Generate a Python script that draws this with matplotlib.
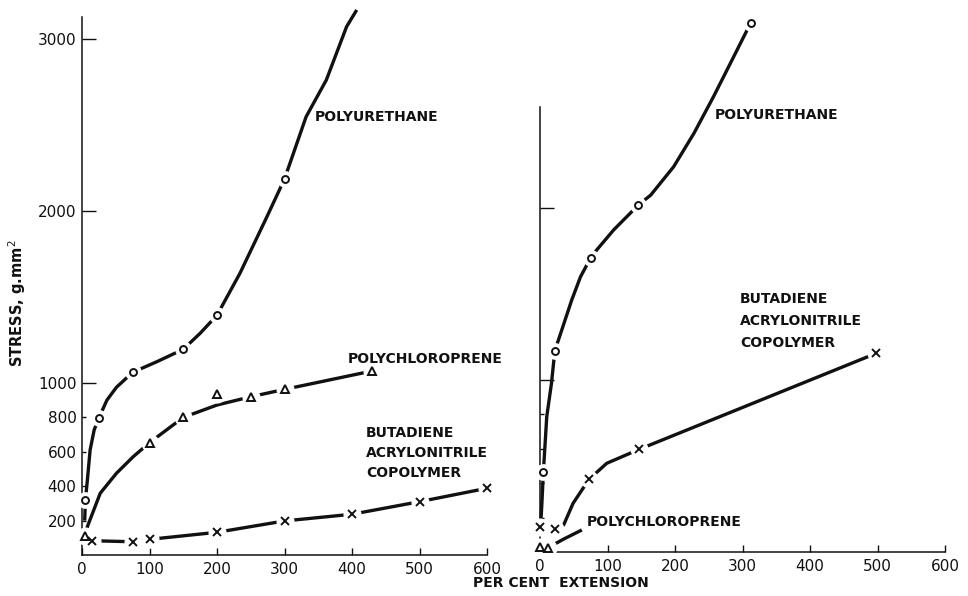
import matplotlib.pyplot as plt

# ---- data (per cent extension, stress g/mm^2) ----
# left panel: measured points
pu_left_x = [5, 25, 75, 150, 200, 300]
pu_left_y = [320, 797, 1062, 1196, 1394, 2186]
cr_left_x = [5, 100, 150, 200, 250, 300, 430]
cr_left_y = [110, 653, 800, 937, 920, 963, 1070]
nbr_left_x = [15, 75, 100, 200, 300, 400, 500, 600]
nbr_left_y = [83, 77, 91, 132, 198, 237, 310, 388]

# left panel: traced curves
pu_left_cx = [4, 5, 8, 12, 18, 25, 37, 51, 75, 111, 150, 175, 200, 234, 274, 300, 332, 362, 392, 407]
pu_left_cy = [200, 320, 436, 610, 727, 797, 901, 975, 1062, 1124, 1196, 1289, 1394, 1638, 1967, 2186, 2548, 2762, 3072, 3169]
cr_left_cx = [5, 8, 27, 51, 76, 100, 150, 200, 250, 300, 430]
cr_left_cy = [110, 165, 359, 475, 572, 653, 800, 872, 920, 963, 1070]
nbr_left_cx = [5, 15, 75, 100, 200, 300, 400, 500, 600]
nbr_left_cy = [100, 83, 77, 91, 132, 198, 237, 310, 388]

# right panel: measured points
pu_right_x = [5, 22, 75, 145, 312]
pu_right_y = [465, 1170, 1710, 2015, 3075]
nbr_right_x = [0, 22, 73, 147, 498]
nbr_right_y = [144, 132, 424, 597, 1155]
cr_right_x = [0, 12]
cr_right_y = [31, 25]

# right panel: traced curves
pu_right_cx = [1, 3, 5, 10, 17, 22, 47, 60, 75, 84, 109, 134, 145, 164, 198, 228, 257, 287, 312]
pu_right_cy = [150, 300, 465, 787, 981, 1170, 1465, 1600, 1710, 1756, 1872, 1971, 2015, 2075, 2240, 2434, 2647, 2880, 3075]
nbr_right_cx = [0, 22, 35, 49, 62, 73, 99, 147, 498]
nbr_right_cy = [144, 132, 157, 283, 360, 424, 516, 597, 1155]
cr_right_cx = [0, 12, 35, 62]
cr_right_cy = [31, 25, 75, 128]

xtick_vals = [0, 100, 200, 300, 400, 500, 600]

W, H = 968, 596
INK = '#111111'
LW = 2.4

fig = plt.figure(figsize=(W / 100, H / 100), dpi=100)
plt.rcParams['font.family'] = ['DejaVu Sans']


def px_axes(x0, x600, y0, ytop):
    return fig.add_axes([x0 / W, 1 - y0 / H, (x600 - x0) / W, (y0 - ytop) / H])


def draw_series(ax, cx, cy, mx, my, marker, ms):
    ax.plot(cx, cy, color=INK, lw=LW, solid_capstyle='butt', zorder=2, clip_on=False)
    # white halo gives the broken-line look around each point
    ax.plot(mx, my, ls='none', marker='o', ms=ms + 6, mfc='white', mec='white', zorder=3, clip_on=False)
    ax.plot(mx, my, ls='none', marker=marker, ms=ms, mfc='white', mec=INK, mew=1.4, zorder=4, clip_on=False)


def style_axes(ax, ylabels):
    for s in ['top', 'right']:
        ax.spines[s].set_visible(False)
    for s in ['left', 'bottom']:
        ax.spines[s].set_linewidth(1.1)
        ax.spines[s].set_color(INK)
    ax.set_xlim(0, 600)
    ax.set_ylim(0, 3128)
    ax.set_xticks(xtick_vals)
    ax.set_xticklabels([str(v) for v in xtick_vals], fontsize=11)
    ax.tick_params(axis='x', direction='in', length=5, width=1, pad=5, colors=INK)
    if ylabels:
        ax.set_yticks([1000, 2000, 3000])
        ax.set_yticks([200, 400, 600, 800], minor=True)
        ax.set_yticklabels(['1000', '2000', '3000'], fontsize=11)
        ax.set_yticklabels(['200', '400', '600', '800'], minor=True, fontsize=11)
    else:
        ax.set_yticks([1000, 2000])
        ax.set_yticks([200, 400, 600, 800], minor=True)
        ax.set_yticklabels([])
        ax.set_yticklabels([], minor=True)
    ax.tick_params(axis='y', which='major', direction='in', length=10, width=1, pad=4, colors=INK)
    ax.tick_params(axis='y', which='minor', direction='in', length=3, width=1, pad=4, colors=INK)


lbl = dict(fontsize=10, fontweight='bold', color=INK, va='center')

# left panel
ax1 = px_axes(82, 487, 555, 17)
style_axes(ax1, True)
draw_series(ax1, pu_left_cx, pu_left_cy, pu_left_x, pu_left_y, 'o', 5)
draw_series(ax1, cr_left_cx, cr_left_cy, cr_left_x, cr_left_y, '^', 6)
draw_series(ax1, nbr_left_cx, nbr_left_cy, nbr_left_x, nbr_left_y, 'x', 6)

ax1.text(345, 2547, 'POLYURETHANE', **lbl)
ax1.text(393, 1140, 'POLYCHLOROPRENE', **lbl)
ax1.text(421, 593, 'BUTADIENE\nACRYLONITRILE\nCOPOLYMER', linespacing=1.55, **lbl)

# right panel
ax2 = px_axes(540, 945, 552, 14)
style_axes(ax2, False)
ax2.spines['left'].set_bounds(0, 2590)
draw_series(ax2, pu_right_cx, pu_right_cy, pu_right_x, pu_right_y, 'o', 5)
draw_series(ax2, nbr_right_cx, nbr_right_cy, nbr_right_x, nbr_right_y, 'x', 6)
draw_series(ax2, cr_right_cx, cr_right_cy, cr_right_x, cr_right_y, '^', 6)

ax2.text(259, 2540, 'POLYURETHANE', **lbl)
ax2.text(296, 1343, 'BUTADIENE\nACRYLONITRILE\nCOPOLYMER', linespacing=1.75, **lbl)
ax2.text(70, 174, 'POLYCHLOROPRENE', **lbl)

fig.text(17 / W, 1 - 303 / H, 'STRESS, g.mm$^2$', rotation=90, ha='center', va='center',
         fontsize=10.5, fontweight='bold', color=INK)
fig.text(561 / W, 1 - 583 / H, 'PER CENT  EXTENSION', ha='center', va='center',
         fontsize=10, fontweight='bold', color=INK)

fig.savefig('out.png', dpi=100)
